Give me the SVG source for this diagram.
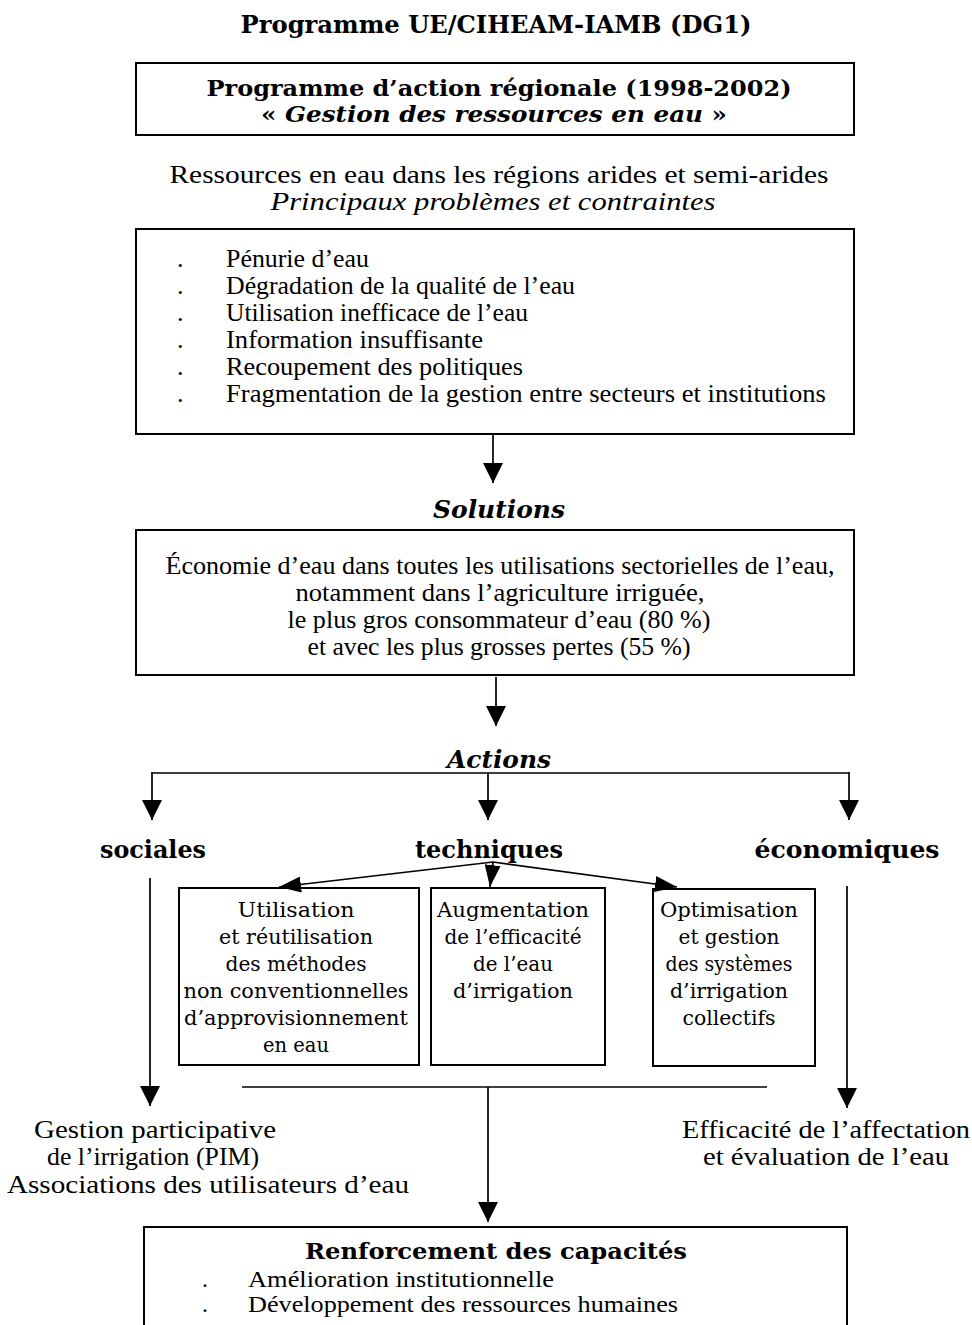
<svg xmlns="http://www.w3.org/2000/svg" width="972" height="1325" viewBox="0 0 972 1325">
<style>
.t{font-family:"Liberation Serif","Times New Roman",serif;font-size:26px;fill:#000}
.s{font-size:24px}
.g{font-family:"DejaVu Serif",serif;font-size:21px;fill:#000}
.b{font-family:"DejaVu Serif",serif;font-weight:bold;font-size:24.5px;fill:#000}
.bs{font-size:22.5px}
.i{font-style:italic}
.c{text-anchor:middle}
.box{fill:none;stroke:#000;stroke-width:2}
.ln{fill:none;stroke:#000;stroke-width:1.7}
.ar{fill:none;stroke:#000;stroke-width:1.7;marker-end:url(#ah)}
</style>
<defs>
<marker id="ah" viewBox="0 0 20 20" refX="20" refY="10" markerWidth="20" markerHeight="20" markerUnits="userSpaceOnUse" orient="auto">
<path d="M0,0 L20,10 L0,20 Z" fill="#000"/>
</marker>
<marker id="ah2" viewBox="0 0 22 16" refX="22" refY="8" markerWidth="22" markerHeight="16" markerUnits="userSpaceOnUse" orient="auto">
<path d="M0,0 L22,8 L0,16 Z" fill="#000"/>
</marker>
</defs>
<rect width="972" height="1325" fill="#fff"/>

<g id="title">
<text class="b c" x="496" y="33" textLength="511" lengthAdjust="spacingAndGlyphs">Programme UE/CIHEAM-IAMB (DG1)</text>
</g>

<g id="programme">
<rect class="box" x="136" y="63" width="718" height="72"/>
<text class="b bs c" x="499" y="96" textLength="585" lengthAdjust="spacingAndGlyphs">Programme d’action régionale (1998-2002)</text>
<text class="b bs c" x="494" y="122" textLength="466" lengthAdjust="spacingAndGlyphs">« <tspan class="i">Gestion des ressources en eau</tspan> »</text>
</g>

<g id="ressources">
<text class="t c" x="499" y="183" textLength="659" lengthAdjust="spacingAndGlyphs">Ressources en eau dans les régions arides et semi-arides</text>
<text class="t i c" x="493" y="210" textLength="445" lengthAdjust="spacingAndGlyphs">Principaux problèmes et contraintes</text>
</g>

<g id="problemes">
<rect class="box" x="136" y="229" width="718" height="205"/>
<text class="t" x="177" y="267">.</text>
<text class="t" x="177" y="294">.</text>
<text class="t" x="177" y="321">.</text>
<text class="t" x="177" y="348">.</text>
<text class="t" x="177" y="375">.</text>
<text class="t" x="177" y="402">.</text>
<text class="t" x="226" y="267" textLength="143" lengthAdjust="spacingAndGlyphs">Pénurie d’eau</text>
<text class="t" x="226" y="294" textLength="349" lengthAdjust="spacingAndGlyphs">Dégradation de la qualité de l’eau</text>
<text class="t" x="226" y="321" textLength="302" lengthAdjust="spacingAndGlyphs">Utilisation inefficace de l’eau</text>
<text class="t" x="226" y="348" textLength="257" lengthAdjust="spacingAndGlyphs">Information insuffisante</text>
<text class="t" x="226" y="375" textLength="297" lengthAdjust="spacingAndGlyphs">Recoupement des politiques</text>
<text class="t" x="226" y="402" textLength="600" lengthAdjust="spacingAndGlyphs">Fragmentation de la gestion entre secteurs et institutions</text>
</g>

<g id="solutions-label">
<text class="b i c" x="499" y="518" textLength="132" lengthAdjust="spacingAndGlyphs">Solutions</text>
</g>

<g id="solutions">
<rect class="box" x="136" y="530" width="718" height="145"/>
<text class="t c" x="500" y="574" textLength="669" lengthAdjust="spacingAndGlyphs">Économie d’eau dans toutes les utilisations sectorielles de l’eau,</text>
<text class="t c" x="500" y="601" textLength="409" lengthAdjust="spacingAndGlyphs">notamment dans l’agriculture irriguée,</text>
<text class="t c" x="499" y="628" textLength="423" lengthAdjust="spacingAndGlyphs">le plus gros consommateur d’eau (80 %)</text>
<text class="t c" x="499" y="655" textLength="383" lengthAdjust="spacingAndGlyphs">et avec les plus grosses pertes (55 %)</text>
</g>

<g id="actions-label">
<text class="b i c" x="499" y="768" textLength="104" lengthAdjust="spacingAndGlyphs">Actions</text>
</g>

<g id="sociales">
<text class="b c" x="153" y="858" textLength="106" lengthAdjust="spacingAndGlyphs">sociales</text>
</g>
<g id="techniques">
<text class="b c" x="489" y="858" textLength="148" lengthAdjust="spacingAndGlyphs">techniques</text>
</g>
<g id="economiques">
<text class="b c" x="847" y="858" textLength="185" lengthAdjust="spacingAndGlyphs">économiques</text>
</g>

<g id="utilisation">
<rect class="box" x="179" y="888" width="240" height="177"/>
<text class="g c" x="296" y="917" textLength="117" lengthAdjust="spacingAndGlyphs">Utilisation</text>
<text class="g c" x="296" y="944" textLength="154" lengthAdjust="spacingAndGlyphs">et réutilisation</text>
<text class="g c" x="296" y="971" textLength="141" lengthAdjust="spacingAndGlyphs">des méthodes</text>
<text class="g c" x="296" y="998" textLength="225" lengthAdjust="spacingAndGlyphs">non conventionnelles</text>
<text class="g c" x="296" y="1025" textLength="224" lengthAdjust="spacingAndGlyphs">d’approvisionnement</text>
<text class="g c" x="296" y="1052" textLength="66" lengthAdjust="spacingAndGlyphs">en eau</text>
</g>

<g id="augmentation">
<rect class="box" x="431" y="888" width="174" height="177"/>
<text class="g c" x="513" y="917" textLength="152" lengthAdjust="spacingAndGlyphs">Augmentation</text>
<text class="g c" x="513" y="944" textLength="137" lengthAdjust="spacingAndGlyphs">de l’efficacité</text>
<text class="g c" x="513" y="971" textLength="80" lengthAdjust="spacingAndGlyphs">de l’eau</text>
<text class="g c" x="513" y="998" textLength="120" lengthAdjust="spacingAndGlyphs">d’irrigation</text>
</g>

<g id="optimisation">
<rect class="box" x="653" y="889" width="162" height="177"/>
<text class="g c" x="729" y="917" textLength="138" lengthAdjust="spacingAndGlyphs">Optimisation</text>
<text class="g c" x="729" y="944" textLength="101" lengthAdjust="spacingAndGlyphs">et gestion</text>
<text class="g c" x="729" y="971" textLength="127" lengthAdjust="spacingAndGlyphs">des systèmes</text>
<text class="g c" x="729" y="998" textLength="118" lengthAdjust="spacingAndGlyphs">d’irrigation</text>
<text class="g c" x="729" y="1025" textLength="93" lengthAdjust="spacingAndGlyphs">collectifs</text>
</g>

<g id="gestion-participative">
<text class="t c" x="155" y="1138" textLength="242" lengthAdjust="spacingAndGlyphs">Gestion participative</text>
<text class="t c" x="153" y="1165" textLength="212" lengthAdjust="spacingAndGlyphs">de l’irrigation (PIM)</text>
<text class="t c" x="208" y="1193" textLength="402" lengthAdjust="spacingAndGlyphs">Associations des utilisateurs d’eau</text>
</g>

<g id="efficacite">
<text class="t c" x="826" y="1138" textLength="288" lengthAdjust="spacingAndGlyphs">Efficacité de l’affectation</text>
<text class="t c" x="826" y="1165" textLength="246" lengthAdjust="spacingAndGlyphs">et évaluation de l’eau</text>
</g>

<g id="renforcement">
<rect class="box" x="144" y="1227" width="703" height="120"/>
<text class="b bs c" x="496" y="1259" textLength="382" lengthAdjust="spacingAndGlyphs">Renforcement des capacités</text>
<text class="t s" x="202" y="1287">.</text>
<text class="t s" x="202" y="1312">.</text>
<text class="t s" x="248" y="1287" textLength="306" lengthAdjust="spacingAndGlyphs">Amélioration institutionnelle</text>
<text class="t s" x="248" y="1312" textLength="430" lengthAdjust="spacingAndGlyphs">Développement des ressources humaines</text>
</g>

<g id="connectors">
<line class="ar" x1="493" y1="435" x2="493" y2="483"/>
<line class="ar" x1="496" y1="677" x2="496" y2="726"/>
<polyline class="ln" points="152,773 849,773"/>
<line class="ar" x1="152" y1="772" x2="152" y2="820"/>
<line class="ar" x1="488" y1="773" x2="488" y2="820"/>
<line class="ar" x1="849" y1="772" x2="849" y2="820"/>
<line class="ln" x1="493" y1="862" x2="279" y2="887" style="marker-end:url(#ah2)"/>
<line class="ln" x1="493" y1="862" x2="490" y2="887" style="marker-end:url(#ah2)"/>
<line class="ln" x1="493" y1="862" x2="677" y2="887" style="marker-end:url(#ah2)"/>
<line class="ar" x1="150" y1="878" x2="150" y2="1106"/>
<line class="ar" x1="847" y1="886" x2="847" y2="1108"/>
<line class="ln" x1="242" y1="1087" x2="767" y2="1087"/>
<line class="ar" x1="488" y1="1087" x2="488" y2="1222"/>
</g>
</svg>
